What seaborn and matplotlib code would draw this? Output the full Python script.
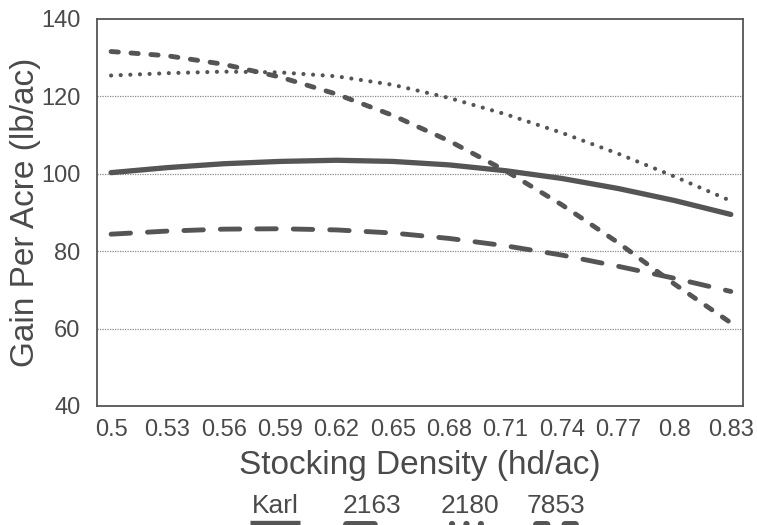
import matplotlib
matplotlib.use("Agg")
import matplotlib.pyplot as plt
from matplotlib.lines import Line2D
import seaborn as sns
import pandas as pd

# ---- data ----
density = [0.50, 0.53, 0.56, 0.59, 0.62, 0.65, 0.68, 0.71, 0.74, 0.77, 0.80, 0.83]
tick_labels = ["0.5", "0.53", "0.56", "0.59", "0.62", "0.65", "0.68",
               "0.71", "0.74", "0.77", "0.8", "0.83"]
karl = [100.3, 101.6, 102.6, 103.2, 103.5, 103.2, 102.3, 100.8, 98.8, 96.2, 93.1, 89.5]
v2163 = [84.4, 85.2, 85.7, 85.8, 85.5, 84.7, 83.3, 81.4, 79.0, 76.1, 73.0, 69.6]
v2180 = [125.4, 126.0, 126.4, 126.2, 125.2, 123.0, 119.6, 115.4, 110.6, 105.2, 99.3, 93.0]
v7853 = [131.6, 130.5, 128.3, 125.0, 120.6, 115.1, 108.5, 100.8, 92.0, 82.2, 71.5, 61.5]

series_names = ["Karl", "2163", "2180", "7853"]

df = pd.DataFrame({
    "density": density * 4,
    "gain": karl + v2163 + v2180 + v7853,
    "variety": sum([[n] * len(density) for n in series_names], []),
})

# ---- styling ----
sns.set_theme(style="white")
plt.rcParams["font.family"] = ["Liberation Sans", "DejaVu Sans"]
ink = "#4a4a4a"
line_col = "#555555"

styles = {
    "Karl": dict(lw=3.8, ls="-"),
    "2163": dict(lw=3.5, ls=(0, (4.0, 3.5))),
    "2180": dict(lw=3.0, ls=(0, (0.01, 2.3))),
    "7853": dict(lw=3.5, ls=(0, (1.5, 2.6))),
}

fig = plt.figure(figsize=(7.57, 5.25), dpi=100)
ax = fig.add_axes([97 / 757, 1 - 406 / 525, 646 / 757, 387 / 525])

for name in series_names:
    st = styles[name]
    sns.lineplot(data=df[df["variety"] == name], x="density", y="gain", ax=ax,
                 color=line_col, linewidth=st["lw"], linestyle=st["ls"],
                 dash_capstyle="round", solid_capstyle="round", legend=False)

ax.set_xlim(0.4925, 0.8365)
ax.set_ylim(40, 140)
ax.set_xticks(density)
ax.set_xticklabels(tick_labels)
ax.set_yticks([40, 60, 80, 100, 120, 140])
ax.set_yticks(list(range(50, 140, 20)), minor=True)

for g in [60, 80, 100, 120]:
    ax.axhline(g, color="#8a8a8a", lw=0.9, ls=(0, (1, 1)), zorder=0)

for sp in ax.spines.values():
    sp.set_visible(True)
    sp.set_color("#555555")
    sp.set_linewidth(1.3)

ax.tick_params(axis="both", which="both", direction="in", color="#555555",
               length=6, width=1.0, labelcolor=ink, labelsize=17)
ax.tick_params(axis="x", pad=9)
ax.tick_params(axis="y", pad=12)

ax.set_xlabel("Stocking Density (hd/ac)", fontsize=24, color=ink)
ax.set_ylabel("Gain Per Acre (lb/ac)", fontsize=24, color=ink)
ax.xaxis.set_label_coords(0.5, -0.155)
ax.yaxis.label.set_va("center")
ax.xaxis.label.set_va("center")
ax.yaxis.set_label_coords(-0.11, 0.5)

# ---- legend (labels above samples, bottom of figure) ----
label_cx = [275, 372, 470, 556]
sample_x = [(250, 300), (346, 398), (452, 492), (536, 586)]
for name, cx, (x0, x1) in zip(series_names, label_cx, sample_x):
    fig.text(cx / 757, 1 - 506 / 525, name, ha="center", va="center",
             fontsize=19, color=ink)
    st = styles[name]
    fig.add_artist(Line2D([x0 / 757, x1 / 757], [1 - 524 / 525, 1 - 524 / 525],
                          transform=fig.transFigure, color=line_col,
                          lw=st["lw"] + 1.5, ls=st["ls"],
                          dash_capstyle="round", solid_capstyle="butt"))

fig.savefig("out.png", dpi=100)
